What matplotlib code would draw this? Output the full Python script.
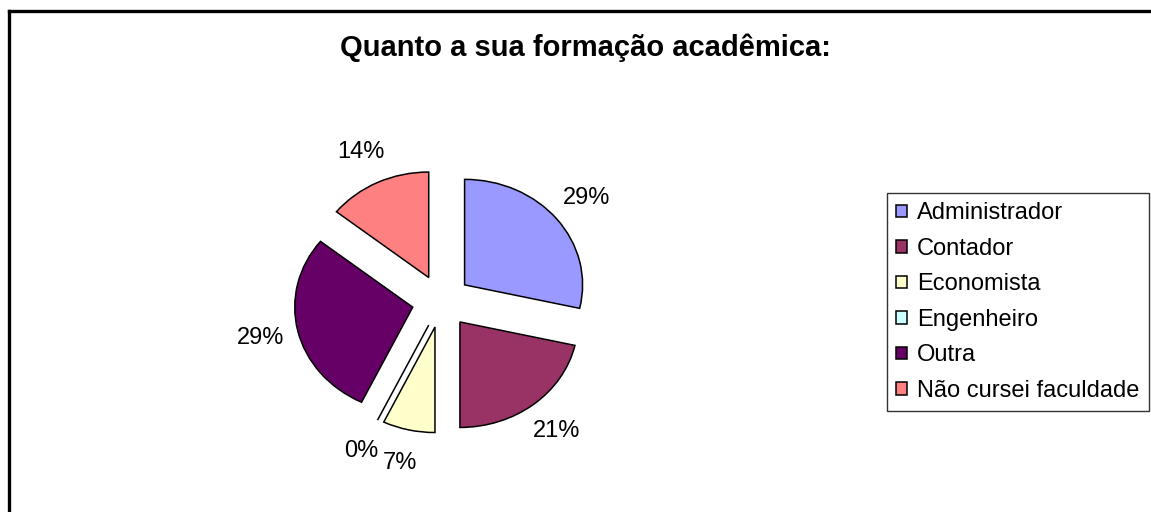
import matplotlib.pyplot as plt
from matplotlib.lines import Line2D

plt.rcParams['font.family'] = ['Liberation Sans', 'DejaVu Sans']

# Respostas por formação
categorias = ["Administrador", "Contador", "Economista", "Engenheiro", "Outra",
              "Não cursei faculdade"]
respostas = [4, 3, 1, 0, 4, 2]
cores = ["#9999FF", "#993366", "#FFFFCC", "#CCFFFF", "#660066", "#FF8080"]

fig = plt.figure(figsize=(11.51, 5.12), dpi=100)

# Pizza levemente esticada na horizontal, fatias destacadas
ax = fig.add_axes([0.1888, 0.02, 0.3896, 0.783])
wedges, textos, pcts = ax.pie(
    respostas,
    colors=cores,
    startangle=90,
    counterclock=False,
    explode=[0.25] * len(respostas),
    autopct="%1.0f%%",
    pctdistance=1.32,
    wedgeprops=dict(edgecolor="black", linewidth=1.1),
    textprops=dict(fontsize=17, color="black"),
)
ax.set_aspect("auto")
ax.set_xlim(-1.9, 1.9)
ax.set_ylim(-1.9, 1.9)

fig.text(0.509, 0.906, "Quanto a sua formação acadêmica:", ha="center",
         va="center", fontsize=21, fontweight="bold")

leg = fig.legend(wedges, categorias, loc="upper left",
                 bbox_to_anchor=(887 / 1151, 1 - 193 / 512),
                 fontsize=17, frameon=True, fancybox=False,
                 handlelength=0.45, handleheight=0.45, handletextpad=0.42,
                 labelspacing=0.57, borderpad=0.4, borderaxespad=0)
leg.get_frame().set_edgecolor("black")
leg.get_frame().set_linewidth(1.0)

# Moldura da área do gráfico
fig.add_artist(Line2D([9 / 1151, 9 / 1151], [0, 1 - 11 / 512],
                      color="black", linewidth=2.4, transform=fig.transFigure))
fig.add_artist(Line2D([9 / 1151, 1], [1 - 11 / 512, 1 - 11 / 512],
                      color="black", linewidth=2.4, transform=fig.transFigure))

fig.savefig("out.png", dpi=100, facecolor="white")
